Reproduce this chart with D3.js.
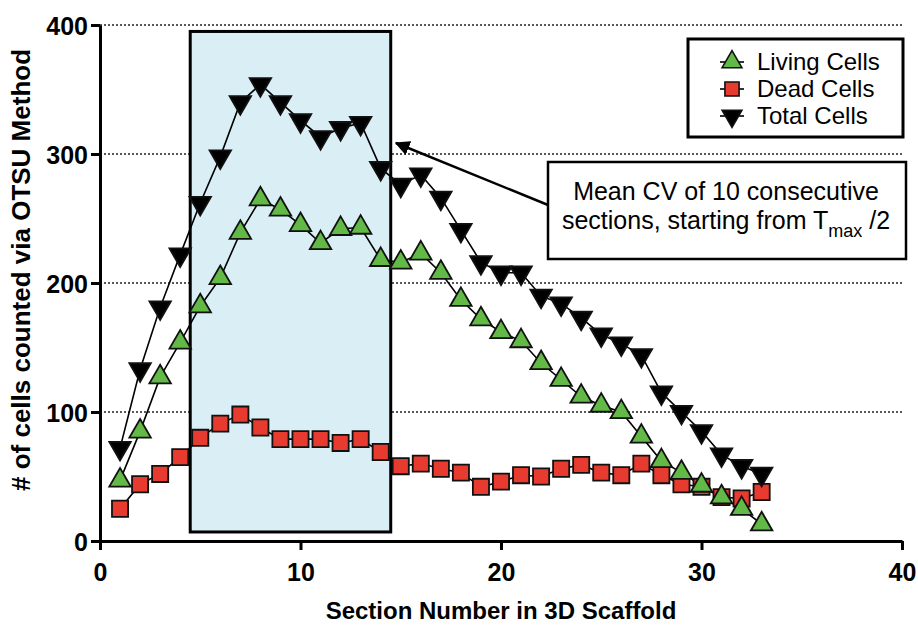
<!DOCTYPE html>
<html>
<head>
<meta charset="utf-8">
<script src="https://cdn.jsdelivr.net/npm/d3@7"></script>
<style>
  body { margin: 0; background: #fff; }
  text { font-family: "Liberation Sans", Arial, Helvetica, sans-serif; }
</style>
</head>
<body>
<script>
// section numbers and cell counts
const sections = [1,2,3,4,5,6,7,8,9,10,11,12,13,14,15,16,17,18,19,20,21,22,23,24,25,26,27,28,29,30,31,32,33];
const living = [47,85,127,154,182,204,239,265,257,245,231,242,243,218,216,223,208,187,172,162,155,138,125,112,105,100,81,62,53,43,34,25,13];
const dead = [25,44,52,65,80,91,98,88,79,79,79,76,79,69,58,60,56,53,42,46,51,50,56,59,53,51,60,51,44,42,34,33,38];
const total = [72,133,181,222,262,298,340,354,340,326,313,320,324,289,276,284,266,241,216,208,208,190,184,173,160,153,144,115,100,85,67,58,52];
const xTicks = [0, 10, 20, 30, 40];
const yTicks = [0, 100, 200, 300, 400];
const windowRange = [4.5, 14.5]; // the 10 consecutive sections

const width = 918, height = 628;
const green = '#62b946', red = '#e63b2e', blue = '#d9eef5';

const x = d3.scaleLinear().domain([0, 40]).range([100, 902]);
const y = d3.scaleLinear().domain([0, 400]).range([541, 25]);

const svg = d3.select('body').append('svg')
  .attr('width', width)
  .attr('height', height);

svg.append('rect').attr('width', width).attr('height', height).attr('fill', '#fff');

// dotted grid lines
svg.append('g').selectAll('line')
  .data(yTicks.filter(d => d > 0))
  .enter().append('line')
  .attr('x1', x(0)).attr('x2', x(40))
  .attr('y1', d => y(d)).attr('y2', d => y(d))
  .attr('stroke', '#222')
  .attr('stroke-width', 1.6)
  .attr('stroke-dasharray', '2,2');

// highlighted window
svg.append('rect')
  .attr('x', x(windowRange[0]))
  .attr('y', y(395))
  .attr('width', x(windowRange[1]) - x(windowRange[0]))
  .attr('height', y(7) - y(395))
  .attr('fill', blue)
  .attr('stroke', '#000')
  .attr('stroke-width', 3);

// axes
const xAxis = svg.append('g')
  .attr('transform', `translate(0,${y(0)})`)
  .call(d3.axisBottom(x).tickValues(xTicks).tickSize(9).tickPadding(13).tickSizeOuter(0));
const yAxis = svg.append('g')
  .attr('transform', `translate(${x(0)},0)`)
  .call(d3.axisLeft(y).tickValues(yTicks).tickSize(9).tickPadding(3).tickSizeOuter(0));

[xAxis, yAxis].forEach(a => {
  a.select('.domain').attr('stroke', '#000').attr('stroke-width', 3);
  a.selectAll('.tick line').attr('stroke', '#000').attr('stroke-width', 3);
  a.selectAll('.tick text')
    .attr('fill', '#000')
    .style('font-family', '"Liberation Sans", Arial, sans-serif')
    .style('font-size', '25px')
    .style('font-weight', 'bold');
});
yAxis.selectAll('.tick text').attr('dy', '0.36em');

// axis titles
svg.append('text')
  .attr('x', x(20)).attr('y', 619)
  .attr('text-anchor', 'middle')
  .style('font-size', '24px').style('font-weight', 'bold')
  .text('Section Number in 3D Scaffold');

svg.append('text')
  .attr('transform', `translate(30,${270}) rotate(-90)`)
  .attr('text-anchor', 'middle')
  .style('font-size', '26px').style('font-weight', 'bold')
  .text('# of cells counted via OTSU Method');

// series
const series = [
  { name: 'Dead Cells', values: dead, color: red, shape: d3.symbolSquare, size: 260, rot: 0 },
  { name: 'Living Cells', values: living, color: green, shape: d3.symbolTriangle, size: 200, rot: 0 },
  { name: 'Total Cells', values: total, color: '#000', shape: d3.symbolTriangle, size: 200, rot: 180 }
];

const line = d3.line()
  .x((d, i) => x(sections[i]))
  .y(d => y(d));

series.forEach(s => {
  svg.append('path')
    .datum(s.values)
    .attr('fill', 'none')
    .attr('stroke', '#000')
    .attr('stroke-width', 1.6)
    .attr('d', line);
});

series.forEach(s => {
  svg.append('g').selectAll('path')
    .data(s.values)
    .enter().append('path')
    .attr('transform', (d, i) => `translate(${x(sections[i])},${y(d)}) rotate(${s.rot})`)
    .attr('d', d3.symbol().type(s.shape).size(s.size))
    .attr('fill', s.color)
    .attr('stroke', '#111')
    .attr('stroke-width', 1.8);
});

// legend
const legend = svg.append('g');
legend.append('rect')
  .attr('x', 688).attr('y', 39).attr('width', 215).attr('height', 98)
  .attr('fill', '#fff').attr('stroke', '#000').attr('stroke-width', 3);

const legendOrder = [series[1], series[0], series[2]];
legendOrder.forEach((s, i) => {
  const ly = 62 + i * 27;
  legend.append('line')
    .attr('x1', 720).attr('x2', 744).attr('y1', ly).attr('y2', ly)
    .attr('stroke', '#000').attr('stroke-width', 1.6);
  legend.append('path')
    .attr('transform', `translate(732,${ly}) rotate(${s.rot})`)
    .attr('d', d3.symbol().type(s.shape).size(s.shape === d3.symbolSquare ? 200 : 170))
    .attr('fill', s.color)
    .attr('stroke', '#111')
    .attr('stroke-width', 1.6);
  legend.append('text')
    .attr('x', 757).attr('y', ly + 8)
    .style('font-size', '24px')
    .text(s.name);
});

// annotation box and arrow
svg.append('defs').append('marker')
  .attr('id', 'arrow')
  .attr('viewBox', '0 0 10 10')
  .attr('refX', 9).attr('refY', 5)
  .attr('markerWidth', 6).attr('markerHeight', 6)
  .attr('orient', 'auto')
  .append('path').attr('d', 'M0,0 L10,5 L0,10 z').attr('fill', '#000');

svg.append('line')
  .attr('x1', 548).attr('y1', 205)
  .attr('x2', 396).attr('y2', 143)
  .attr('stroke', '#000').attr('stroke-width', 2.5)
  .attr('marker-end', 'url(#arrow)');

svg.append('rect')
  .attr('x', 548).attr('y', 162).attr('width', 358).attr('height', 97)
  .attr('fill', '#fff').attr('stroke', '#000').attr('stroke-width', 2.5);

svg.append('text')
  .attr('x', 726).attr('y', 200)
  .attr('text-anchor', 'middle')
  .style('font-size', '25px')
  .text('Mean CV of 10 consecutive');

const t2 = svg.append('text')
  .attr('x', 726).attr('y', 229)
  .attr('text-anchor', 'middle')
  .style('font-size', '25px');
t2.append('tspan').text('sections, starting from T');
t2.append('tspan').attr('dy', 8).style('font-size', '18px').text('max');
t2.append('tspan').attr('dy', -8).text(' /2');
</script>
</body>
</html>
